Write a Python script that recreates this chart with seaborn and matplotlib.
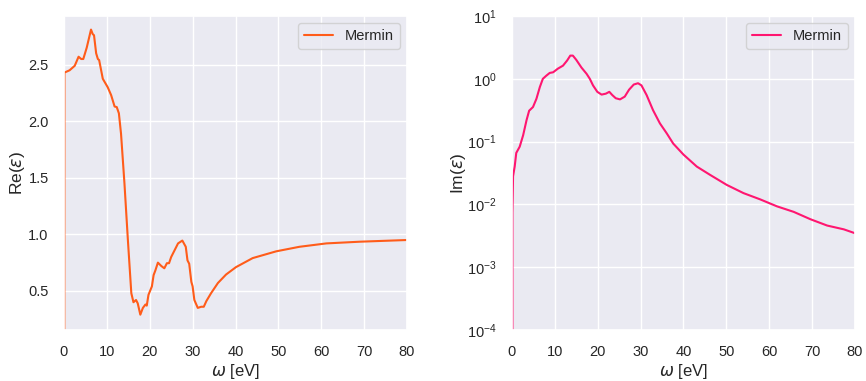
import numpy as np
import pandas as pd
import matplotlib
matplotlib.use("Agg")
import matplotlib.pyplot as plt
import seaborn as sns

# ---- data ----
omega_re = [0.0, 0.1, 1.3, 2.5, 3.4, 4.0, 4.5, 5.3, 6.3, 6.7, 7.0, 7.5, 7.9, 8.2, 9.05, 10.2, 11.0, 11.8,
            12.3, 12.8, 13.3, 14.1, 14.9, 15.7, 16.2, 16.8, 17.2, 17.8, 18.4, 19.0, 19.3, 19.7, 20.5,
            20.9, 21.3, 21.9, 22.7, 23.4, 24.0, 24.5, 25.0, 25.8, 26.6, 27.6, 28.4, 28.8, 29.2, 29.7,
            30.0, 30.4, 31.2, 32.0, 32.6, 33.2, 34.3, 35.9, 37.8, 40.1, 44.0, 49.5, 54.9, 61.2, 69.0, 80.0]
re_eps = [-5.0, 2.43, 2.45, 2.49, 2.57, 2.55, 2.55, 2.65, 2.81, 2.77, 2.76, 2.60, 2.55, 2.54, 2.375, 2.30,
          2.23, 2.13, 2.125, 2.07, 1.89, 1.45, 0.95, 0.48, 0.40, 0.42, 0.39, 0.29, 0.35, 0.38, 0.37,
          0.465, 0.54, 0.64, 0.68, 0.75, 0.72, 0.70, 0.745, 0.745, 0.80, 0.86, 0.92, 0.945, 0.89,
          0.77, 0.74, 0.58, 0.54, 0.42, 0.35, 0.36, 0.36, 0.41, 0.48, 0.57, 0.645, 0.71, 0.79, 0.85,
          0.89, 0.92, 0.935, 0.95]

omega_im = [0.0, 0.1, 0.25, 0.63, 1.0, 1.8, 2.6, 3.4, 4.0, 4.9, 5.7, 6.5, 7.2, 8.0, 8.8, 9.6, 10.7, 11.9,
            12.85, 13.6, 14.2, 15.0, 16.2, 17.4, 18.15, 18.9, 19.9, 20.9, 21.9, 22.7, 23.4, 24.2, 25.2,
            26.3, 27.3, 28.4, 29.4, 30.2, 31.4, 32.9, 34.5, 36.1, 37.6, 40.0, 43.1, 46.2, 50.1, 54.0,
            57.9, 61.8, 65.7, 69.6, 73.5, 77.4, 80.0]
im_eps = [0.0, 0.0074, 0.028, 0.040, 0.066, 0.083, 0.126, 0.22, 0.31, 0.355, 0.48, 0.74, 1.0, 1.12, 1.24,
          1.27, 1.45, 1.62, 1.95, 2.34, 2.34, 2.0, 1.51, 1.20, 1.0, 0.785, 0.62, 0.56, 0.58, 0.62, 0.55,
          0.49, 0.47, 0.52, 0.67, 0.81, 0.85, 0.785, 0.55, 0.316, 0.195, 0.135, 0.093, 0.062, 0.040,
          0.0295, 0.0204, 0.0151, 0.0120, 0.0093, 0.0076, 0.0058, 0.0046, 0.0040, 0.00347]

x_ticks = [0, 10, 20, 30, 40, 50, 60, 70, 80]
re_ticks = [0.5, 1.0, 1.5, 2.0, 2.5]
series_name = "Mermin"

sns.set_theme(style="darkgrid")
plt.rcParams['font.family'] = ['Liberation Sans', 'DejaVu Sans']

fig, (ax1, ax2) = plt.subplots(1, 2, figsize=(8.66, 3.81), dpi=100)
fig.subplots_adjust(left=0.0739, right=0.9873, top=0.958, bottom=0.134, wspace=0.306)

df_re = pd.DataFrame({"omega": omega_re, "val": re_eps})
df_im = pd.DataFrame({"omega": omega_im, "val": im_eps})

sns.lineplot(data=df_re, x="omega", y="val", ax=ax1, color="#ff5c1a", lw=1.5, label=series_name)
sns.lineplot(data=df_im, x="omega", y="val", ax=ax2, color="#ff1670", lw=1.5, label=series_name)

ax1.set_xlim(0, 80)
ax1.set_ylim(0.155, 2.93)
ax1.set_xticks(x_ticks)
ax1.set_yticks(re_ticks)
ax1.set_xlabel(r"$\omega$ [eV]", fontsize=12, labelpad=2)
ax1.set_ylabel(r"Re($\varepsilon$)", fontsize=12.5, labelpad=1)

ax2.set_yscale("log")
ax2.set_xlim(0, 80)
ax2.set_ylim(1e-4, 1e1)
ax2.set_xticks(x_ticks)
ax2.set_xlabel(r"$\omega$ [eV]", fontsize=12, labelpad=2)
ax2.set_ylabel(r"Im($\varepsilon$)", fontsize=12.5, labelpad=-1)

for ax in (ax1, ax2):
    ax.tick_params(labelsize=10.5, pad=5)
    ax.legend(loc="upper right", fontsize=10.5)

fig.savefig("out.png", dpi=100)
